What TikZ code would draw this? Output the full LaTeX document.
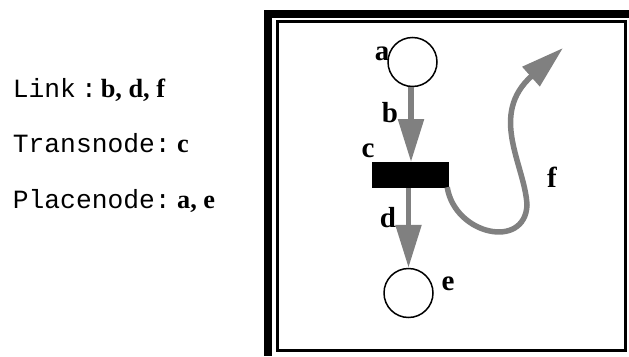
\documentclass[tikz,border=0pt]{standalone}
\usepackage{fontspec}
\setmainfont{Liberation Serif}
\newfontfamily\cour{Liberation Mono}
\usetikzlibrary{arrows.meta}
\definecolor{linkgray}{HTML}{808080}
\tikzset{
  place/.style={circle,draw=black,line width=1.5pt,fill=white,minimum size=49pt,inner sep=0pt},
  trans/.style={rectangle,fill=black,minimum width=77pt,minimum height=26pt,inner sep=0pt},
  lbl/.style={anchor=base,inner sep=0pt,font=\fontsize{29}{29}\selectfont\bfseries},
  legend/.style={anchor=base west,inner sep=0pt,font=\fontsize{26.3}{26.3}\selectfont},
  link/.style={draw=linkgray,line width=5.5pt,-{Triangle[length=43pt,width=25pt]},color=linkgray}
}
\begin{document}
\begin{tikzpicture}[x=1pt,y=-1pt]
\useasboundingbox (0,0) rectangle (629,356);
% frame
\fill[black] (264,10) rectangle (629,356);
\fill[white] (272,18) rectangle (629,356);
\draw[line width=3pt] (277.5,21.5) rectangle (625.5,350.5);
% legend
\node[legend] (l1) at (12.7,97) {{\cour Link}\hspace{5pt}{\cour :}\hspace{4pt}\textbf{b, d, f}};
\node[legend] (l2) at (12.7,152.5) {{\cour Transnode:}\hspace{6.5pt}\textbf{c}};
\node[legend] (l3) at (12.7,208) {{\cour Placenode:}\hspace{6.5pt}\textbf{a, e}};
% net
\node[place] (a) at (412.5,62) {};
\node[trans] (c) at (410.5,175) {};
\node[place] (e) at (408.5,293) {};
\coordinate (ftip) at (563,48);
\draw[link] (a.south -| 411,0) -- (411,162);
\draw[link] (408.5,188) -- (e.north);
\draw[link] (c.south east) ++(-2,-1) .. controls (455,235) and (525,250) .. (527,205)
  .. controls (525,165) and (488,115) .. (ftip);
% labels
\node[lbl] (la) at (382,60) {a};
\node[lbl] (lb) at (390,122) {b};
\node[lbl] (lc) at (368,157) {c};
\node[lbl] (ld) at (388,227) {d};
\node[lbl] (le) at (448,290) {e};
\node[lbl] (lf) at (552,187) {f};
\end{tikzpicture}
\end{document}
